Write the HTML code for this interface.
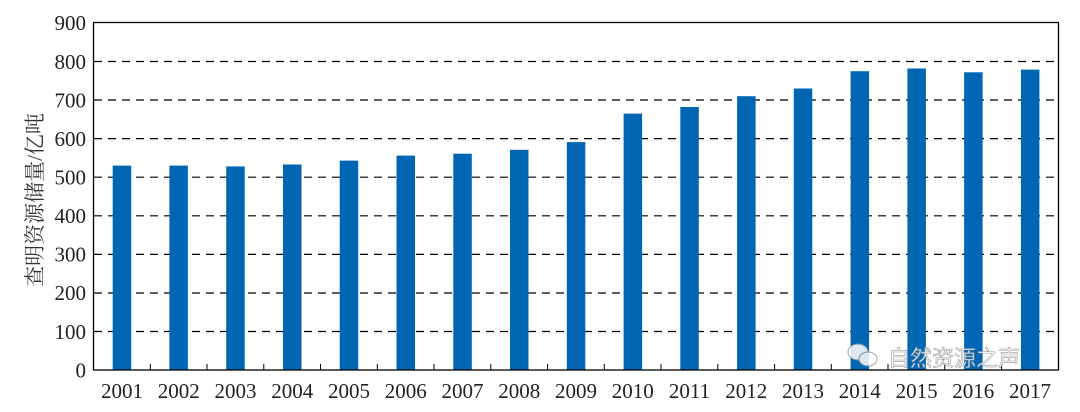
<!DOCTYPE html>
<html><head><meta charset="utf-8"><style>body{margin:0;background:#fff}</style></head>
<body>
<svg width="1080" height="407" xmlns="http://www.w3.org/2000/svg" font-family="Liberation Serif, Noto Serif CJK SC, serif">
<rect width="1080" height="407" fill="#fff"/>
<g id="grid" stroke="#000" stroke-width="1.2" stroke-dasharray="8,6">
</g>
<script>
</script>
<g stroke="#000" stroke-width="1.2" stroke-dasharray="8,6">
<line x1="94" x2="1058" y1="61.5" y2="61.5"/>
<line x1="94" x2="1058" y1="100" y2="100"/>
<line x1="94" x2="1058" y1="138.6" y2="138.6"/>
<line x1="94" x2="1058" y1="177.2" y2="177.2"/>
<line x1="94" x2="1058" y1="215.8" y2="215.8"/>
<line x1="94" x2="1058" y1="254.4" y2="254.4"/>
<line x1="94" x2="1058" y1="293" y2="293"/>
<line x1="94" x2="1058" y1="331.5" y2="331.5"/>
</g>
<g fill="#0066b3">
<rect x="112.7" y="165.6" width="18.5" height="204.4"/>
<rect x="169.4" y="165.6" width="18.5" height="204.4"/>
<rect x="226.2" y="166.4" width="18.5" height="203.6"/>
<rect x="283" y="164.5" width="18.5" height="205.5"/>
<rect x="339.7" y="160.6" width="18.5" height="209.4"/>
<rect x="396.5" y="155.6" width="18.5" height="214.4"/>
<rect x="453.3" y="153.7" width="18.5" height="216.3"/>
<rect x="510" y="149.8" width="18.5" height="220.2"/>
<rect x="566.8" y="142.1" width="18.5" height="227.9"/>
<rect x="623.6" y="113.6" width="18.5" height="256.4"/>
<rect x="680.3" y="107" width="18.5" height="263"/>
<rect x="737.1" y="96.2" width="18.5" height="273.8"/>
<rect x="793.8" y="88.5" width="18.5" height="281.5"/>
<rect x="850.6" y="71.2" width="18.5" height="298.8"/>
<rect x="907.4" y="68.5" width="18.5" height="301.5"/>
<rect x="964.1" y="72.3" width="18.5" height="297.7"/>
<rect x="1020.9" y="69.6" width="18.5" height="300.4"/>
</g>
<rect x="93.5" y="22.5" width="965" height="347.5" fill="none" stroke="#000" stroke-width="1.3"/>
<g stroke="#000" stroke-width="1">
<line x1="150.3" x2="150.3" y1="370" y2="364"/><line x1="207" x2="207" y1="370" y2="364"/><line x1="263.8" x2="263.8" y1="370" y2="364"/><line x1="320.5" x2="320.5" y1="370" y2="364"/><line x1="377.3" x2="377.3" y1="370" y2="364"/><line x1="434" x2="434" y1="370" y2="364"/><line x1="490.8" x2="490.8" y1="370" y2="364"/><line x1="547.6" x2="547.6" y1="370" y2="364"/><line x1="604.3" x2="604.3" y1="370" y2="364"/><line x1="661" x2="661" y1="370" y2="364"/><line x1="717.8" x2="717.8" y1="370" y2="364"/><line x1="774.6" x2="774.6" y1="370" y2="364"/><line x1="831.3" x2="831.3" y1="370" y2="364"/><line x1="888" x2="888" y1="370" y2="364"/><line x1="944.8" x2="944.8" y1="370" y2="364"/><line x1="1001.6" x2="1001.6" y1="370" y2="364"/>
</g>
<g font-size="21" text-anchor="end" fill="#222">
<text x="86" y="30">900</text><text x="86" y="69">800</text><text x="86" y="107.5">700</text><text x="86" y="146">600</text><text x="86" y="184.5">500</text><text x="86" y="223">400</text><text x="86" y="261.5">300</text><text x="86" y="300">200</text><text x="86" y="339">100</text><text x="86" y="377.5">0</text>
</g>
<g font-size="21" text-anchor="middle" fill="#222">
<text x="122" y="398">2001</text><text x="178.7" y="398">2002</text><text x="235.5" y="398">2003</text><text x="292.2" y="398">2004</text><text x="349" y="398">2005</text><text x="405.7" y="398">2006</text><text x="462.5" y="398">2007</text><text x="519.3" y="398">2008</text><text x="576" y="398">2009</text><text x="632.8" y="398">2010</text><text x="689.5" y="398">2011</text><text x="746.3" y="398">2012</text><text x="803" y="398">2013</text><text x="859.8" y="398">2014</text><text x="916.6" y="398">2015</text><text x="973.3" y="398">2016</text><text x="1030" y="398">2017</text>
</g>
<text transform="translate(42,200) rotate(-90)" font-size="21" text-anchor="middle" fill="#333" font-family="Liberation Serif, Noto Serif CJK SC, serif">查明资源储量/亿吨</text>
<g opacity="0.85">
<ellipse cx="858" cy="352" rx="10" ry="8" fill="#fff" stroke="#999"/>
<ellipse cx="868" cy="359" rx="9" ry="7" fill="#fff" stroke="#999"/>
<text x="888" y="366" font-size="22" fill="#fff" stroke="#888" stroke-width="0.6" font-family="Noto Sans CJK SC, sans-serif">自然资源之声</text>
</g>
</svg>
</body></html>
